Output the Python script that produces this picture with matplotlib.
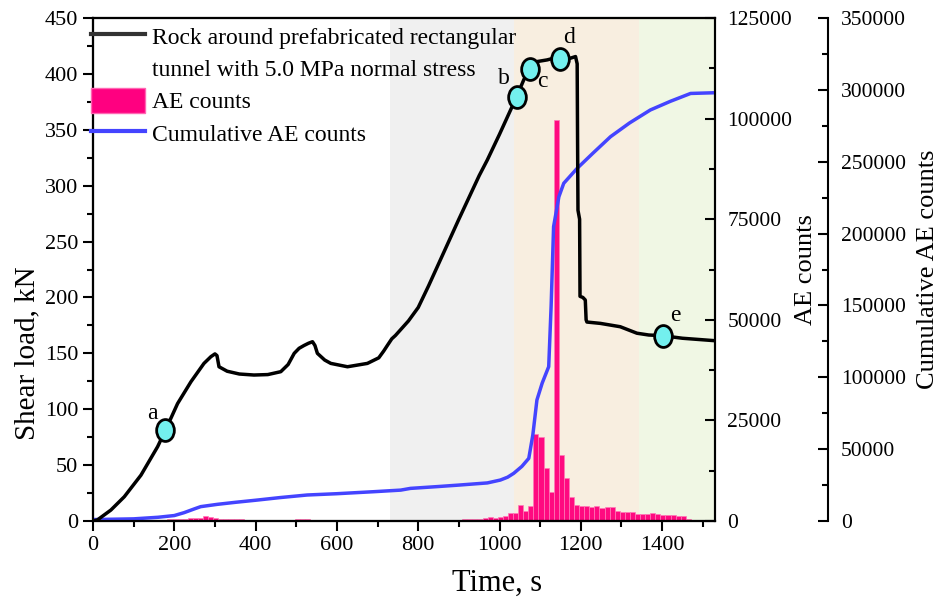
import numpy as np
import matplotlib
matplotlib.use("Agg")
import matplotlib.pyplot as plt
from matplotlib.lines import Line2D
from matplotlib.patches import Patch
from matplotlib.markers import MarkerStyle
from matplotlib.transforms import Affine2D
from matplotlib.ticker import MultipleLocator

plt.rcParams['font.family'] = ['Liberation Serif', 'DejaVu Serif']
plt.rcParams['font.size'] = 16

# shear load curve (time s, load kN)
load_t = [0, 11, 44, 77, 118, 159, 178, 208, 241, 273, 290, 300, 305, 310, 330, 360,
          396, 430, 462, 480, 495, 507, 519, 530, 540, 546, 552, 570, 585, 626, 675,
          703, 715, 724, 735, 744, 776, 800, 825, 850, 900, 950, 970, 1000, 1042, 1060,
          1074, 1085, 1092, 1117, 1133, 1150, 1174, 1187, 1191, 1192, 1193, 1197, 1198,
          1205, 1211, 1213, 1215, 1248, 1297, 1338, 1367, 1401, 1450, 1530]
load_kn = [0, 1, 9.8, 21.7, 41, 66.5, 81, 105, 124.6, 141, 147, 149.5, 148, 138, 134,
           131.5, 130.6, 131, 133.6, 140, 150, 154.5, 157, 159, 160.4, 157, 150, 144,
           141, 138, 141, 146, 152, 157, 163, 166, 179, 191, 210, 230, 270, 309, 323,
           346, 379.5, 395, 404, 408, 411, 412.5, 414, 413, 414, 415.5, 409, 340, 278,
           270, 201, 200, 197.7, 180, 178, 176.8, 173.8, 168, 166.4, 165.8, 163.5, 161.3]

# marked points a-e
pt_labels = ['a', 'b', 'c', 'd', 'e']
pt_t = [178, 1042, 1074, 1150, 1401]
pt_kn = [81, 379.5, 404, 413, 165.8]
lab_t = [147, 1011, 1105, 1170, 1432]
lab_kn = [96, 396, 393, 433, 184]

# AE counts per bin (bin width 12.5 s)
ae_counts = [100, 100, 100, 150, 150, 150, 200, 200, 200, 250,
             250, 300, 300, 350, 350, 400, 450, 500, 600, 700,
             800, 700, 1200, 900, 700, 600, 500, 450, 400, 400,
             350, 350, 300, 300, 250, 250, 200, 200, 250, 300,
             400, 450, 400, 300, 200, 150, 150, 100, 100, 100,
             100, 100, 100, 100, 150, 150, 150, 150, 200, 200,
             200, 200, 200, 200, 250, 250, 250, 250, 250, 300,
             300, 350, 350, 400, 450, 500, 600, 700, 900, 700,
             1000, 1300, 1900, 1900, 4000, 2600, 3700, 21600, 20800, 13100,
             7300, 99600, 16400, 10600, 5900, 4000, 3730, 3730, 3560, 3730,
             3310, 3400, 3400, 2500, 2200, 2200, 2200, 1800, 1800, 1800,
             1900, 1800, 1600, 1600, 1500, 1300, 1300, 600, 250, 100,
             0, 0]
ae_t = 2 + 12.5 * np.arange(len(ae_counts))

# cumulative AE counts
cum_t = [0, 100, 160, 200, 224, 250, 265, 306, 350, 405, 460, 527, 600, 691, 757,
         781, 850, 900, 970, 1002, 1020, 1035, 1055, 1072, 1082, 1092, 1105, 1121,
         1127, 1133, 1146, 1158, 1191, 1230, 1273, 1320, 1371, 1420, 1470, 1530]
cum_v = [1000, 1500, 2600, 3800, 5800, 8500, 10000, 11600, 13000, 14600, 16300,
         18100, 19000, 20400, 21500, 22700, 24000, 25000, 26500, 28500, 30500,
         33200, 38000, 43600, 60000, 84200, 96000, 107400, 150000, 204800, 225600,
         235000, 245400, 256000, 267400, 277000, 286000, 292000, 297500, 298000]

# stage shading
stages = [(730, 1036, '#f0f0f0'), (1036, 1342, '#f8eee0'), (1342, 1530, '#f0f7e4')]

fig = plt.figure(figsize=(9.43, 6.04), dpi=100)
ax1 = fig.add_axes([0.0986, 0.1374, 0.6596, 0.8328])
ax2 = ax1.twinx()
ax3 = ax1.twinx()
ax1.set_zorder(3)
ax3.set_zorder(2)
ax2.set_zorder(1)
ax1.patch.set_visible(False)
ax3.patch.set_visible(False)

for s0, s1, c in stages:
    ax2.axvspan(s0, s1, color=c, lw=0, zorder=0)

ax2.bar(ae_t, ae_counts, width=12.5, color='#ff0a80', edgecolor='#ff7ab8',
        linewidth=0.5, zorder=2)
ax3.plot(cum_t, cum_v, color='#4444ff', lw=2.5)
ax1.plot(load_t, load_kn, color='black', lw=2.5, zorder=3)
oval = MarkerStyle('o', transform=Affine2D().scale(0.85, 1.05))
ax1.plot(pt_t, pt_kn, linestyle='none', marker=oval, ms=15, mfc='#73f0ee',
         mec='black', mew=2, zorder=4)
for l, x, y in zip(pt_labels, lab_t, lab_kn):
    ax1.text(x, y, l, fontsize=17, ha='center', va='center', zorder=5)

ax1.set_xlim(0, 1530)
ax1.set_ylim(0, 450)
ax2.set_ylim(0, 125000)
ax3.set_ylim(0, 350000)

ax1.xaxis.set_major_locator(MultipleLocator(200))
ax1.xaxis.set_minor_locator(MultipleLocator(100))
ax1.yaxis.set_major_locator(MultipleLocator(50))
ax1.yaxis.set_minor_locator(MultipleLocator(25))
ax2.yaxis.set_major_locator(MultipleLocator(25000))
ax2.yaxis.set_minor_locator(MultipleLocator(12500))
ax3.yaxis.set_major_locator(MultipleLocator(50000))
ax3.yaxis.set_minor_locator(MultipleLocator(25000))

ax1.tick_params(axis='both', which='major', direction='out', length=7, width=1.5, labelsize=16)
ax1.tick_params(axis='both', which='minor', direction='out', length=4, width=1.5)
ax1.tick_params(axis='x', top=False, which='both')
for ax in (ax2, ax3):
    ax.tick_params(axis='y', which='major', direction='in', length=7, width=1.5,
                   labelsize=15.5, pad=9)
    ax.tick_params(axis='y', which='minor', direction='in', length=4, width=1.5)

ax3.spines['right'].set_position(('axes', 1.182))
for ax in (ax1, ax2, ax3):
    for sp in ax.spines.values():
        sp.set_linewidth(1.5)

ax1.set_xlabel('Time, s', fontsize=22)
ax1.xaxis.set_label_coords(0.65, -0.095)
ax1.set_ylabel('Shear load, kN', fontsize=21)
ax1.yaxis.set_label_coords(-0.085, 0.334)
ax2.set_ylabel('AE counts', fontsize=19, labelpad=2)
ax3.set_ylabel('Cumulative AE counts', fontsize=19, labelpad=8)

# legend: first label split so its handle sits on the top line
handles = [Line2D([], [], color='#333333', lw=3),
           Line2D([], [], color='none', lw=0),
           Patch(facecolor='#ff0080', edgecolor='#ff66b3'),
           Line2D([], [], color='#4444ff', lw=3)]
names = ['Rock around prefabricated rectangular', 'tunnel with 5.0 MPa normal stress',
         'AE counts', 'Cumulative AE counts']
leg = ax1.legend(handles, names, loc='upper left', bbox_to_anchor=(-0.015, 1.002),
                 frameon=False, fontsize=17, handlelength=2.3, handleheight=1.2,
                 handletextpad=0.3, borderaxespad=0.1, labelspacing=0.3, borderpad=0.2)

fig.savefig('out.png', dpi=100)
